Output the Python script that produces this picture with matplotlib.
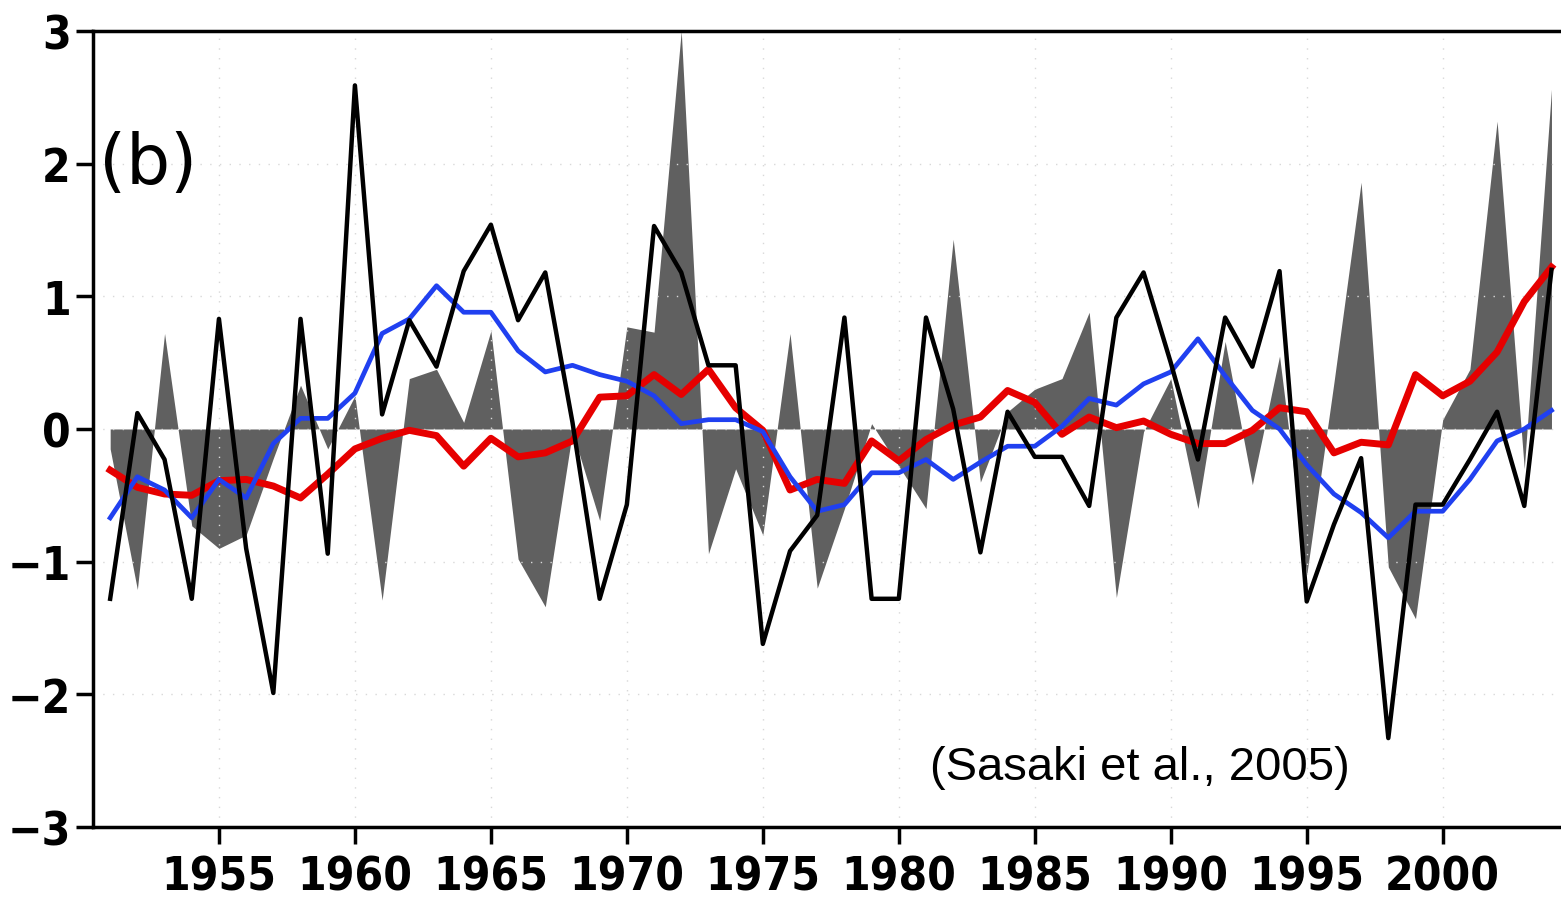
import numpy as np
import matplotlib
matplotlib.use("Agg")
import matplotlib.pyplot as plt

# yearly values (1951-2004)
years = np.arange(1951, 2005)

shade = [-0.15, -1.21, 0.72, -0.73, -0.90, -0.80, -0.22, 0.33, -0.15, 0.25,
         -1.29, 0.38, 0.45, 0.05, 0.74, -0.98, -1.34, -0.02, -0.69, 0.77,
         0.73, 3.00, -0.94, -0.30, -0.80, 0.72, -1.20, -0.60, 0.04, -0.28,
         -0.60, 1.43, -0.40, 0.13, 0.30, 0.38, 0.88, -1.27, -0.02, 0.38,
         -0.60, 0.66, -0.42, 0.55, -1.10, 0.35, 1.86, -1.04, -1.43, 0.07,
         0.45, 2.32, -0.30, 2.56]

black = [-1.28, 0.12, -0.23, -1.28, 0.83, -0.90, -1.99, 0.83, -0.94, 2.59,
         0.11, 0.82, 0.47, 1.19, 1.54, 0.82, 1.18, 0.05, -1.28, -0.57,
         1.53, 1.18, 0.48, 0.48, -1.62, -0.92, -0.65, 0.84, -1.28, -1.28,
         0.84, 0.15, -0.93, 0.13, -0.21, -0.21, -0.58, 0.84, 1.18, 0.50,
         -0.23, 0.84, 0.47, 1.19, -1.30, -0.72, -0.22, -2.33, -0.57, -0.57,
         -0.23, 0.13, -0.58, 1.20]

red = [-0.31, -0.44, -0.49, -0.50, -0.39, -0.38, -0.43, -0.52, -0.34, -0.15,
       -0.07, -0.01, -0.05, -0.28, -0.07, -0.21, -0.18, -0.09, 0.24, 0.25,
       0.41, 0.26, 0.45, 0.16, -0.01, -0.46, -0.38, -0.41, -0.09, -0.24,
       -0.08, 0.03, 0.09, 0.29, 0.20, -0.04, 0.09, 0.01, 0.06, -0.04,
       -0.11, -0.11, -0.01, 0.16, 0.13, -0.18, -0.10, -0.12, 0.41, 0.25,
       0.36, 0.58, 0.96, 1.22]

blue = [-0.67, -0.36, -0.46, -0.67, -0.38, -0.52, -0.11, 0.08, 0.08, 0.27,
        0.72, 0.83, 1.08, 0.88, 0.88, 0.59, 0.43, 0.48, 0.41, 0.36,
        0.25, 0.04, 0.07, 0.07, -0.02, -0.36, -0.62, -0.57, -0.33, -0.33,
        -0.23, -0.38, -0.25, -0.13, -0.13, 0.02, 0.23, 0.18, 0.34, 0.43,
        0.68, 0.40, 0.14, 0.00, -0.27, -0.49, -0.63, -0.82, -0.62, -0.62,
        -0.38, -0.09, 0.00, 0.14]

xticks = [1955, 1960, 1965, 1970, 1975, 1980, 1985, 1990, 1995, 2000]
yticks = [-3, -2, -1, 0, 1, 2, 3]
ylabels = ['\u22123', '\u22122', '\u22121', '0', '1', '2', '3']

tick_font = ['DejaVu Sans']

fig = plt.figure(figsize=(15.61, 9.04), dpi=100)
ax = fig.add_axes([0.0596, 0.0841, 0.9404, 0.8805])

ax.fill_between(years, 0, shade, color='#606060', lw=0, zorder=1)
ax.plot(years, red, color='#e60000', lw=5.0, zorder=3)
ax.plot(years, blue, color='#2040f0', lw=3.4, zorder=4)
ax.plot(years, black, color='black', lw=3.2, zorder=5)

ax.set_xlim(1950.37, 2004.35)
ax.set_ylim(-3, 3)
ax.set_xticks(xticks)
ax.set_yticks(yticks)
ax.set_xticklabels([str(t) for t in xticks], family=tick_font, fontweight='bold',
                   fontstretch='condensed', fontsize=33)
ax.set_yticklabels(ylabels, family=tick_font, fontweight='bold',
                   fontstretch='condensed', fontsize=33)
ax.tick_params(axis='both', direction='out', length=12, width=2.5, color='black')
ax.tick_params(axis='x', pad=8)
ax.tick_params(axis='y', pad=4)

for side in ['left', 'top', 'bottom']:
    ax.spines[side].set_linewidth(2.5)
ax.spines['right'].set_visible(False)

ax.grid(True, linestyle=(0, (1, 6)), color='#d8d8d8', lw=1.0, zorder=0)

ax.text(1950.6, 2.0, '(b)', fontsize=50, va='center', ha='left',
        family=['DejaVu Sans'], zorder=6)
ax.text(1981.15, -2.55, '(Sasaki et al., 2005)', fontsize=34, va='center', ha='left',
        family=['Liberation Sans', 'DejaVu Sans'], zorder=6)

fig.savefig('out.png', dpi=100)
